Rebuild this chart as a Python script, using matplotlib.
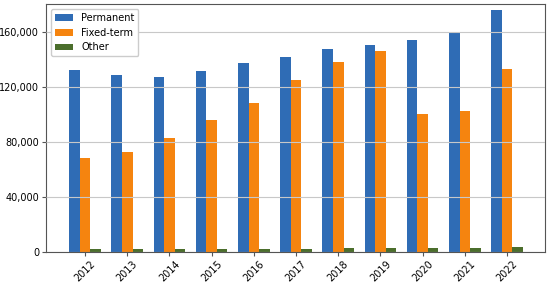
import matplotlib
matplotlib.use("Agg")
import matplotlib.pyplot as plt
import numpy as np

years = ["2012", "2013", "2014", "2015", "2016", "2017", "2018", "2019", "2020", "2021", "2022"]
permanent = [132000, 128500, 127000, 131000, 137000, 141500, 147000, 150000, 153500, 160000, 175500]
fixed_term = [68000, 72500, 82500, 96000, 108000, 125000, 138000, 145500, 100000, 102000, 132500]
other = [2000, 2200, 2000, 2200, 2300, 2300, 2800, 2800, 2800, 2800, 3500]

fig = plt.figure(figsize=(5.5, 2.84), dpi=100)
ax = fig.add_axes([0.084, 0.113, 0.907, 0.873])
x = np.arange(len(years))
w = 0.25
ax.bar(x - w, permanent, w, color="#2f6cb5", label="Permanent", zorder=1)
ax.bar(x, fixed_term, w, color="#f5840f", label="Fixed-term", zorder=1)
ax.bar(x + w, other, w, color="#4b6e2c", label="Other", zorder=1)

ax.set_ylim(0, 180000)
ax.set_xlim(-0.92, 10.9)
ax.set_yticks([0, 40000, 80000, 120000, 160000])
ax.set_yticklabels(["0", "40,000", "80,000", "120,000", "160,000"], fontsize=7)
ax.set_xticks(x)
ax.set_xticklabels(years, rotation=45, fontsize=7)
ax.yaxis.grid(True, color="#c8c8c8", linewidth=0.8, zorder=2)
ax.set_axisbelow(False)
for s in ax.spines.values():
    s.set_color("#555555")
ax.tick_params(axis="both", length=3, pad=2, color="#555555")
ax.legend(loc="upper left", fontsize=7, framealpha=1, edgecolor="#cccccc",
          handlelength=1.9, handletextpad=0.8, labelspacing=0.5)
fig.savefig("out.png", dpi=100)
